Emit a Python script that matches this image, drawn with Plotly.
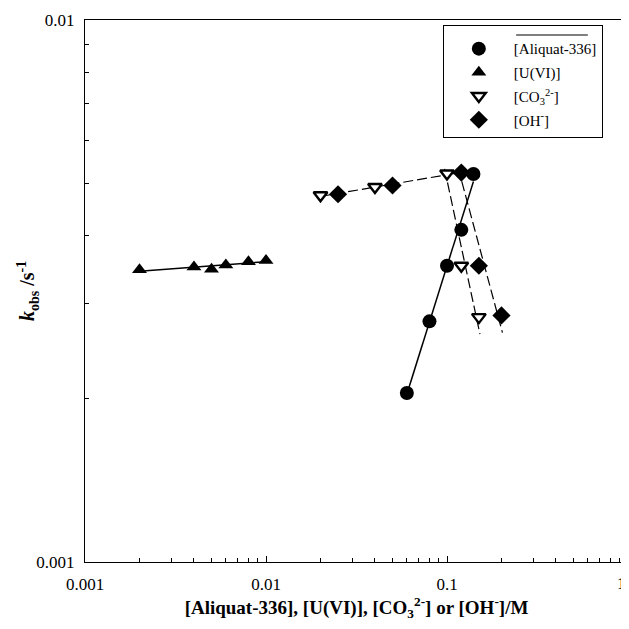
import numpy as np
import plotly.graph_objects as go

# ---- data ----
aliq_x = [0.06, 0.08, 0.10, 0.12, 0.14]
aliq_y = [0.00205, 0.00278, 0.00352, 0.00410, 0.00520]

u_x = [0.002, 0.004, 0.005, 0.006, 0.008, 0.010]
u_y = [0.00346, 0.00350, 0.00347, 0.00353, 0.00358, 0.00360]

co3_x = [0.02, 0.04, 0.10, 0.12, 0.15]
co3_y = [0.00475, 0.00492, 0.00521, 0.00352, 0.00283]

oh_x = [0.025, 0.05, 0.12, 0.15, 0.20]
oh_y = [0.00477, 0.00495, 0.00523, 0.00352, 0.00285]

x_ticks = [0.001, 0.01, 0.1]
x_tick_text = ["0.001", "0.01", "0.1"]
x_last_tick = 1
x_last_text = "1"
y_ticks = [0.001, 0.01]
y_tick_text = ["0.001", "0.01"]

FONT = "Liberation Serif"


def fit_x_range(xs, ys, x_lo, x_hi, n=2):
    lx, ly = np.log10(xs), np.log10(ys)
    b, a = np.polyfit(lx, ly, 1)
    gx = np.linspace(np.log10(x_lo), np.log10(x_hi), n)
    return 10 ** gx, 10 ** (a + b * gx)


def fit_y_range(xs, ys, y_hi, y_lo, n=2):
    lx, ly = np.log10(xs), np.log10(ys)
    b, a = np.polyfit(ly, lx, 1)
    gy = np.linspace(np.log10(y_hi), np.log10(y_lo), n)
    return 10 ** (a + b * gy), 10 ** gy


fig = go.Figure()

line_solid = dict(color="black", width=1.5)
line_dash = dict(color="black", width=1.2, dash="10px,4px")

lx, ly = fit_x_range(u_x, u_y, min(u_x), max(u_x))
fig.add_trace(go.Scatter(x=lx, y=ly, mode="lines", line=line_solid, showlegend=False, hoverinfo="skip"))

lx, ly = fit_x_range(aliq_x, aliq_y, min(aliq_x), max(aliq_x))
fig.add_trace(go.Scatter(x=lx, y=ly, mode="lines", line=line_solid, showlegend=False, hoverinfo="skip"))

rise_x = co3_x[:3] + oh_x[:3]
rise_y = co3_y[:3] + oh_y[:3]
lx, ly = fit_x_range(rise_x, rise_y, min(rise_x), max(rise_x) * 1.2)
fig.add_trace(go.Scatter(x=lx, y=ly, mode="lines", line=line_dash, showlegend=False, hoverinfo="skip"))

lx, ly = fit_y_range(co3_x[2:], co3_y[2:], max(co3_y[2:]) * 1.02, min(co3_y[2:]) * 0.93)
fig.add_trace(go.Scatter(x=lx, y=ly, mode="lines", line=line_dash, showlegend=False, hoverinfo="skip"))
lx, ly = fit_y_range(oh_x[2:], oh_y[2:], max(oh_y[2:]) * 1.02, min(oh_y[2:]) * 0.93)
fig.add_trace(go.Scatter(x=lx, y=ly, mode="lines", line=line_dash, showlegend=False, hoverinfo="skip"))

fig.add_trace(go.Scatter(x=aliq_x, y=aliq_y, mode="markers", name="[Aliquat-336]", legendgroup="a",
                         marker=dict(symbol="circle", size=14, color="black")))
fig.add_trace(go.Scatter(x=u_x, y=u_y, mode="markers", name="[U(VI)]", legendgroup="b",
                         marker=dict(symbol="triangle-up", size=13, color="black")))
fig.add_trace(go.Scatter(x=co3_x, y=co3_y, mode="markers", name="[CO<sub>3</sub><sup>2-</sup>]", legendgroup="c",
                         marker=dict(symbol="triangle-down", size=12, color="white",
                                     line=dict(color="black", width=2.4))))
fig.add_trace(go.Scatter(x=oh_x, y=oh_y, mode="markers", name="[OH<sup>-</sup>]", legendgroup="d",
                         marker=dict(symbol="diamond", size=14, color="black")))

minor_x = [m * 10.0 ** e for e in (-3, -2, -1) for m in range(2, 10)]
minor_y = [m * 1e-3 for m in range(2, 10)]

fig.update_xaxes(type="log", range=[-3, 0], tickvals=x_ticks, ticktext=x_tick_text,
                 ticks="inside", ticklen=6, tickwidth=1, tickcolor="black",
                 minor=dict(tickvals=minor_x, ticks="inside", ticklen=4, tickcolor="black", showgrid=False),
                 showline=True, linecolor="black", linewidth=1.3, mirror=True, showgrid=False, zeroline=False,
                 tickfont=dict(family=FONT, size=17, color="black"), ticklabelstandoff=6,
                 title=dict(text="<b>[Aliquat-336], [U(VI)], [CO<sub>3</sub><sup>2-</sup>] or [OH<sup>-</sup>]/M</b>",
                            font=dict(family=FONT, size=19, color="black"), standoff=4))
fig.update_yaxes(type="log", range=[-3, -2], tickvals=y_ticks, ticktext=y_tick_text,
                 ticks="inside", ticklen=6, tickwidth=1, tickcolor="black",
                 minor=dict(tickvals=minor_y, ticks="inside", ticklen=4, tickcolor="black", showgrid=False),
                 showline=True, linecolor="black", linewidth=1.3, mirror=True, showgrid=False, zeroline=False,
                 tickfont=dict(family=FONT, size=17, color="black"), ticklabelstandoff=6)

# last x tick label sits at the right edge of the figure: right-aligned so it stays visible
fig.add_annotation(text=x_last_text, xref="x", yref="paper", x=np.log10(x_last_tick), y=0,
                   xanchor="right", yanchor="top", yshift=-10, showarrow=False,
                   font=dict(family=FONT, size=17, color="black"))

fig.add_annotation(text="<b><i>k</i><sub>obs</sub> /s<sup>-1</sup></b>", textangle=-90,
                   xref="paper", yref="paper", x=-0.105, y=0.5, xanchor="center", yanchor="middle",
                   showarrow=False, font=dict(family=FONT, size=20, color="black"))

# the page body adds an 8px margin, so the figure is 8px smaller than the window
fig.update_layout(
    width=621, height=621,
    margin=dict(l=77, r=1, t=12, b=67),
    paper_bgcolor="white", plot_bgcolor="white",
    font=dict(family=FONT, color="black"),
    legend=dict(x=0.659, y=0.991, xanchor="left", yanchor="top",
                bordercolor="black", borderwidth=1, bgcolor="rgba(0,0,0,0)",
                font=dict(family=FONT, size=15, color="black"),
                title=dict(text="&nbsp;", font=dict(size=5)),
                itemwidth=60, tracegroupgap=1.2),
    showlegend=True,
)

# overline over the organic-phase species in the legend
fig.add_shape(type="line", xref="paper", yref="paper",
              x0=0.794, x1=0.926, y0=0.9723, y1=0.9723,
              line=dict(color="black", width=1.2))

fig.write_html("out.html")
